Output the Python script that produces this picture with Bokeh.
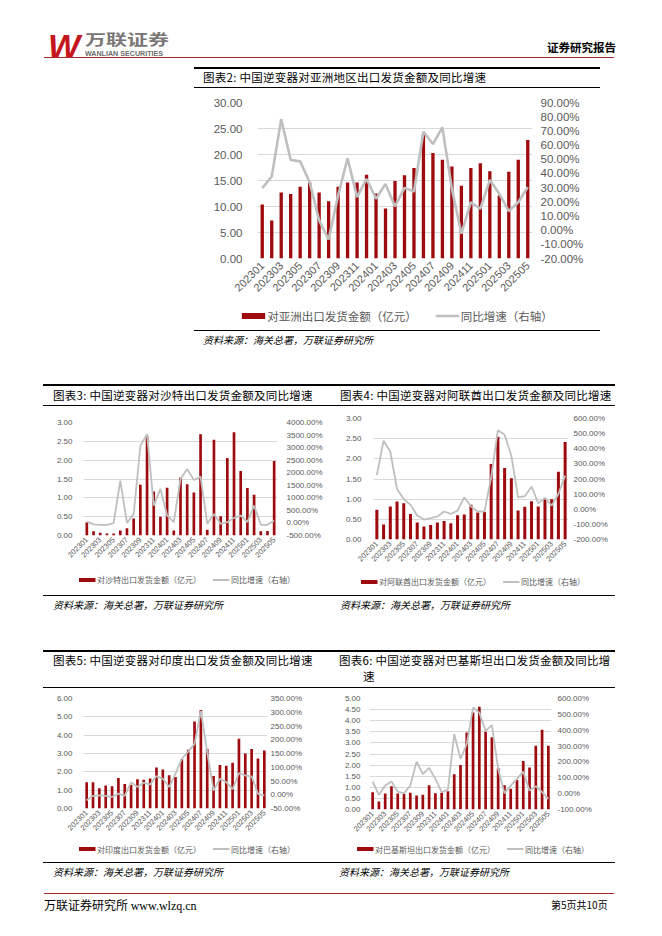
import math
from bokeh.plotting import figure
from bokeh.models import (ColumnDataSource, Range1d, LinearAxis, FixedTicker,
                          SingleIntervalTicker, PrintfTickFormatter, Legend,
                          LegendItem, Div, Spacer)
from bokeh.layouts import column, row
from bokeh.embed import file_html
from bokeh.resources import INLINE

# ---------------- data ----------------
months = ["202301", "202302", "202303", "202304", "202305", "202306", "202307",
          "202308", "202309", "202310", "202311", "202312", "202401", "202402",
          "202403", "202404", "202405", "202406", "202407", "202408", "202409",
          "202410", "202411", "202412", "202501", "202502", "202503", "202504",
          "202505"]
tick_idx = [0, 2, 4, 6, 8, 10, 12, 14, 16, 18, 20, 22, 24, 26, 28]

asia_amount = [10.4, 7.3, 12.7, 12.4, 13.8, 14.6, 12.7, 11.0, 13.8, 14.6, 14.6, 16.1,
               12.5, 9.6, 14.9, 16.0, 17.4, 23.8, 20.3, 19.0, 17.7, 14.0, 17.4, 18.3,
               16.8, 12.1, 16.7, 19.0, 22.8]
asia_yoy = [29.6, 37.8, 78.3, 49.5, 48.5, 33.8, 6.9, -6.5, 24.4, 50.7, 23.3, 36.1,
            22.1, 32.6, 16.7, 29.8, 27.2, 69.4, 60.7, 72.4, 29.1, -2.5, 19.7, 15.1,
            35.4, 25.6, 13.4, 19.7, 30.3]

saudi_amount = [0.35, 0.11, 0.07, 0.05, 0.05, 0.13, 0.19, 0.45, 1.35, 2.65, 1.17, 0.50,
                1.27, 0.13, 1.54, 1.36, 1.14, 2.69, 0.15, 2.54, 0.51, 2.06, 2.74, 1.71,
                1.26, 1.08, 0.11, 0.12, 1.98]
saudi_yoy = [50, -60, -75, -75, -10, 1685, 0, 360, 3074, 3537, 693, 1354,
             296, 32, 1751, 2148, 1712, 1844, -34, 360, -34, 32, 204, 296,
             32, 693, -75, -75, 98]

uae_amount = [0.74, 0.37, 0.82, 0.94, 0.90, 0.63, 0.42, 0.32, 0.36, 0.42, 0.46, 0.40,
              0.60, 0.62, 0.86, 0.67, 0.68, 1.87, 2.55, 1.77, 1.52, 0.72, 0.81, 0.95,
              0.82, 1.00, 1.00, 1.68, 2.42]
uae_yoy = [226, 453, 380, 134, 68, 29, -41, -68, -59, -48, -15, -31,
           -9, 79, 18, -15, -15, 211, 523, 492, 354, 79, 86, 149,
           40, 75, 24, 101, 222]

india_amount = [1.43, 1.43, 1.10, 1.25, 1.21, 1.66, 1.34, 1.30, 1.59, 1.57, 1.63, 2.24,
                2.13, 1.81, 1.72, 2.69, 3.20, 4.74, 5.37, 3.25, 1.77, 2.37, 2.33, 2.50,
                3.80, 3.00, 3.25, 2.73, 3.16]
india_yoy = [-20, -4, -2, -4, -8, 4, -4, 46, 28, 44, 37, 68,
             58, 28, 77, 131, 157, 185, 305, 155, 15, 58, 46, 20,
             79, 70, 67, 3, -2]

pak_amount = [0.78, 0.36, 0.72, 1.05, 0.72, 0.70, 0.76, 0.63, 0.67, 1.09, 0.73, 0.75,
              0.82, 1.59, 2.00, 3.47, 4.37, 4.63, 3.50, 3.25, 1.86, 1.09, 0.93, 1.33,
              2.19, 1.89, 2.87, 3.59, 2.87]
pak_yoy = [76, -8, 51, 76, 13, 2, 51, 202, 124, 162, 93, 9,
           26, 376, 219, 313, 543, 511, 396, 432, 156, 2, 51, 93,
           139, 19, 47, 9, -33]

title2 = "图表2: 中国逆变器对亚洲地区出口发货金额及同比增速"
title3 = "图表3: 中国逆变器对沙特出口发货金额及同比增速"
title4 = "图表4: 中国逆变器对阿联酋出口发货金额及同比增速"
title5 = "图表5: 中国逆变器对印度出口发货金额及同比增速"
title6a = "图表6: 中国逆变器对巴基斯坦出口发货金额及同比增"
title6b = "速"
source_text = "资料来源：海关总署，万联证券研究所"
yoy_label = "同比增速（右轴）"
label2 = "对亚洲出口发货金额（亿元）"
label3 = "对沙特出口发货金额（亿元）"
label4 = "对阿联酋出口发货金额（亿元）"
label5 = "对印度出口发货金额（亿元）"
label6 = "对巴基斯坦出口发货金额（亿元）"

# ---------------- styles ----------------
RED = "#9E0B0F"
GRAY = "#BFBFBF"
CJK = "Noto Sans CJK SC"
NUM = "Liberation Sans"
CJKCSS = "'Noto Sans CJK SC',sans-serif"
NAN = float("nan")


def chart(w, h, bl, br, bt, bb, amount, yoy, lmax, lstep, rmin, rmax, rstep,
          bar_w, line_w, fy, fx, sl, sr, sx):
    p = figure(width=w, height=h, output_backend="svg", toolbar_location=None,
               x_range=Range1d(-0.5, len(months) - 0.5), y_range=Range1d(0, lmax),
               min_border_left=bl, min_border_right=br, min_border_top=bt,
               min_border_bottom=bb, background_fill_color="white",
               border_fill_color="white")
    p.outline_line_color = None
    p.extra_y_ranges = {"yoy": Range1d(rmin, rmax)}
    src = ColumnDataSource(dict(x=list(range(len(months))), amount=amount, yoy=yoy))
    p.vbar(x="x", top="amount", width=bar_w, source=src, fill_color=RED, line_color=None)
    p.line(x="x", y="yoy", source=src, y_range_name="yoy",
           line_color=GRAY, line_width=line_w)

    p.xgrid.visible = False
    lt = SingleIntervalTicker(interval=lstep, num_minor_ticks=0)
    ya = p.yaxis[0]
    ya.ticker = lt
    p.ygrid[0].ticker = lt
    p.ygrid[0].grid_line_color = "#D9D9D9"
    p.ygrid[0].grid_line_width = 1
    ya.formatter = PrintfTickFormatter(format="%.2f")
    ra = LinearAxis(y_range_name="yoy",
                    ticker=SingleIntervalTicker(interval=rstep, num_minor_ticks=0),
                    formatter=PrintfTickFormatter(format="%.2f%%"))
    p.add_layout(ra, "right")
    xa = p.xaxis[0]
    xa.ticker = FixedTicker(ticks=tick_idx)
    xa.major_label_overrides = {i: months[i] for i in tick_idx}
    xa.major_label_orientation = math.pi / 4
    for ax, fs, so in ((ya, fy, sl), (ra, fy, sr), (xa, fx, sx)):
        ax.axis_line_color = None
        ax.major_tick_line_color = None
        ax.minor_tick_line_color = None
        ax.major_tick_out = 0
        ax.major_tick_in = 0
        ax.minor_tick_out = 0
        ax.minor_tick_in = 0
        ax.major_label_text_font = NUM
        ax.major_label_text_font_size = f"{fs}px"
        ax.major_label_text_color = "#595959"
        ax.major_label_standoff = so
    return p


def legend_fig(w, h, label, fl, gw, spacing, key_h, line_w):
    lf = figure(width=w, height=h, output_backend="svg", toolbar_location=None,
                x_range=Range1d(0, 1), y_range=Range1d(0, 1),
                x_axis_type=None, y_axis_type=None, min_border=0,
                background_fill_color="white", border_fill_color="white")
    lf.outline_line_color = None
    lf.grid.visible = False
    k1 = lf.line(x=[NAN], y=[NAN], line_color=RED, line_width=key_h)
    k2 = lf.line(x=[NAN], y=[NAN], line_color=GRAY, line_width=line_w)
    leg = Legend(items=[LegendItem(label=label, renderers=[k1]),
                        LegendItem(label=yoy_label, renderers=[k2])],
                 orientation="horizontal", location="center")
    leg.label_text_font = CJK
    leg.label_text_font_size = f"{fl}px"
    leg.label_text_color = "#595959"
    leg.glyph_width = gw
    leg.glyph_height = int(fl)
    leg.label_height = int(fl)
    leg.label_standoff = 2
    leg.spacing = spacing
    leg.padding = 0
    leg.margin = 0
    leg.border_line_color = None
    leg.background_fill_alpha = 0
    lf.add_layout(leg, "center")
    # wrap in its own row so that its frame is not aligned with the chart above
    return row(lf)


fig2 = chart(406, 211, 63, 68, 12, 43, asia_amount, asia_yoy, 30, 5, -20, 90, 10,
             0.35, 2.6, 11.5, 11, 15, 8, 5)
leg2 = legend_fig(406, 29, label2, 11.5, 24, 18, 6, 2.6)

fig3 = chart(287, 156, 40, 53, 15, 28, saudi_amount, saudi_yoy, 3, 0.5, -500, 4000, 500,
             0.4, 1.8, 8, 7.5, 11, 9, 3)
leg3 = legend_fig(287, 32, label3, 8, 17, 11, 4, 1.8)

fig4 = chart(285, 160, 43, 47, 11, 28, uae_amount, uae_yoy, 3, 0.5, -200, 600, 100,
             0.45, 1.8, 8, 7.5, 12, 5, 3)
leg4 = legend_fig(285, 28, label4, 8, 17, 11, 4, 1.8)

fig5 = chart(287, 148, 40, 63, 10, 28, india_amount, india_yoy, 6, 1, -50, 350, 50,
             0.42, 1.8, 8, 7.5, 11, 3, 3)
leg5 = legend_fig(287, 25, label5, 8, 17, 11, 4, 1.8)

fig6 = chart(285, 148, 39, 64, 10, 27, pak_amount, pak_yoy, 5, 0.5, -100, 600, 100,
             0.43, 1.8, 8, 7.5, 9, 6, 3)
leg6 = legend_fig(285, 25, label6, 8, 17, 11, 4, 1.8)


# ---------------- page decoration ----------------
def t(x, y, s, size, color="#000000", family=CJKCSS, weight="normal",
      style="normal", extra=""):
    return (f'<div style="position:absolute;left:{x}px;top:{y}px;font-family:{family};'
            f'font-size:{size}px;line-height:1;white-space:nowrap;color:{color};'
            f'font-weight:{weight};font-style:{style};{extra}">{s}</div>')


def hl(x, y, w, th, color="#000000"):
    return (f'<div style="position:absolute;left:{x}px;top:{y}px;width:{w}px;'
            f'height:{th}px;background:{color};"></div>')


def block(h, parts):
    html = (f'<div style="position:relative;display:block;width:646px;height:{h}px;'
            f'overflow:visible;">' + "".join(parts) + '</div>')
    return Div(text=html, width=646, height=h, margin=0,
               styles={"font-size": "0px", "line-height": "0px", "overflow": "visible"})


TSZ = 11.5
TEXTRA = "letter-spacing:0.25px;"

r1 = [
    t(40, 20.5, "W", 34, color="#C4161C", family="'Liberation Sans',sans-serif",
      weight="bold", style="italic"),
    t(77, 23.5, "万联证券", 14.5, color="#7A7676", weight="bold",
      extra="transform:scaleX(1.45);transform-origin:left top;"),
    t(77, 42, "WANLIAN SECURITIES", 7.5, color="#6D6D6D",
      family="'Liberation Sans',sans-serif", weight="bold",
      extra="transform:scaleX(0.95);transform-origin:left top;"),
    t(539, 34, "证券研究报告", 11.5, weight="bold"),
    hl(36, 48.5, 570, 1, "#A5292A"),
    hl(186, 58.5, 406, 2.2),
    t(195, 64, title2, TSZ, extra=TEXTRA),
    hl(186, 78.7, 406, 1.3),
]

r3 = [
    hl(186, 0.3, 406, 1),
    t(195, 5, source_text, 10, style="italic"),
    hl(35, 54, 572, 2),
    t(45, 59.5, title3, TSZ, extra=TEXTRA),
    t(332, 59.5, title4, TSZ, extra=TEXTRA),
    hl(35, 75, 572, 1),
]

r5 = [
    hl(35, 0, 572, 1),
    t(45, 5, source_text, 10, style="italic"),
    t(332, 5, source_text, 10, style="italic"),
    hl(35, 55, 572, 2),
    t(45, 59.5, title5, TSZ, extra=TEXTRA),
    t(331, 59.5, title6a, TSZ, extra=TEXTRA),
    t(355, 76.3, title6b, TSZ, extra=TEXTRA),
    hl(35, 91.5, 572, 1),
]

r7 = [
    hl(35, 0.5, 572, 1),
    t(45, 5.5, source_text, 10, style="italic"),
    t(331, 5.5, source_text, 10, style="italic"),
    hl(36, 32, 570, 1, "#A5292A"),
    t(36, 38, "万联证券研究所 <span style=\"font-family:'Liberation Serif',serif;\">www.wlzq.cn</span>", 12),
    t(543, 39, "第5页共10页", 10),
]

page = column(
    block(82, r1),
    row(Spacer(width=186, height=240, margin=0), column(fig2, leg2),
        Spacer(width=54, height=240, margin=0)),
    block(77, r3),
    row(Spacer(width=35, height=188, margin=0), column(fig3, leg3), column(fig4, leg4),
        Spacer(width=39, height=188, margin=0)),
    block(93, r5),
    row(Spacer(width=35, height=173, margin=0), column(fig5, leg5), column(fig6, leg6),
        Spacer(width=39, height=173, margin=0)),
    block(67, r7),
)

# 8px page margin
layout = row(Spacer(width=8, height=928, margin=0),
             column(Spacer(width=646, height=8, margin=0), page))

open("out.html", "w").write(file_html(layout, INLINE, title="万联证券"))
